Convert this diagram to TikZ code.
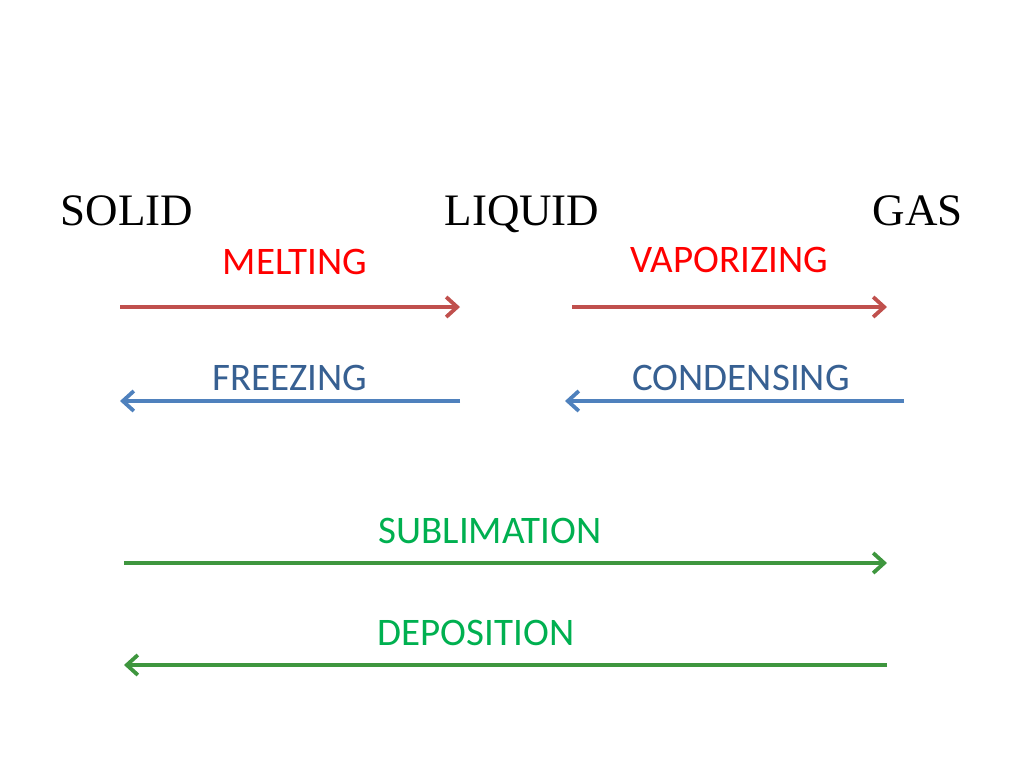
\documentclass[tikz,border=0pt]{standalone}
\usepackage{fontspec}
\setmainfont{Liberation Serif}
\newfontfamily\labelfont{Carlito}
\usetikzlibrary{arrows.meta,positioning}
\definecolor{meltred}{RGB}{192,80,77}
\definecolor{freezeblue}{RGB}{79,129,189}
\definecolor{subgreen}{RGB}{62,150,62}
\definecolor{textred}{RGB}{255,0,0}
\definecolor{textblue}{RGB}{55,96,146}
\definecolor{textgreen}{RGB}{0,176,80}

\begin{document}
\begin{tikzpicture}[x=0.5pt,y=-0.5pt,
  state/.style={font=\fontsize{22.5}{26}\selectfont,inner sep=0pt,anchor=base},
  change/.style={font=\labelfont\fontsize{19.5}{22}\selectfont,inner sep=0pt,anchor=base},
  flow/.style={line width=1.9pt,-{Straight Barb[length=5.5pt,width=10pt,line width=1.9pt]}}]
  \useasboundingbox (0,0) rectangle (1024,768);

  % states
  \node[state] (Solid)  at (127,225) {SOLID};
  \node[state] (Liquid) at (522,225) {LIQUID};
  \node[state] (Gas)    at (918,225) {GAS};

  % labels of the changes
  \node[change,text=textred]   (Melt)  at (295,274) {MELTING};
  \node[change,text=textred]   (Vap)   at (729,272) {VAPORIZING};
  \node[change,text=textblue]  (Freez) at (290,390) {FREEZING};
  \node[change,text=textblue]  (Cond)  at (741,390) {CONDENSING};
  \node[change,text=textgreen] (Subl)  at (490,543) {SUBLIMATION};
  \node[change,text=textgreen] (Depo)  at (476,645) {DEPOSITION};

  % arrow ends
  \coordinate (m1) at (120,307); \coordinate (m2) at (460,307);
  \coordinate (v1) at (572,307); \coordinate (v2) at (887,307);
  \coordinate (f1) at (460,401); \coordinate (f2) at (120,401);
  \coordinate (c1) at (904,401); \coordinate (c2) at (565,401);
  \coordinate (s1) at (124,563); \coordinate (s2) at (887,563);
  \coordinate (d1) at (887,665); \coordinate (d2) at (124,665);

  \draw[flow,meltred]    (m1) -- (m2);
  \draw[flow,meltred]    (v1) -- (v2);
  \draw[flow,freezeblue] (f1) -- (f2);
  \draw[flow,freezeblue] (c1) -- (c2);
  \draw[flow,subgreen]   (s1) -- (s2);
  \draw[flow,subgreen]   (d1) -- (d2);

\end{tikzpicture}
\end{document}
